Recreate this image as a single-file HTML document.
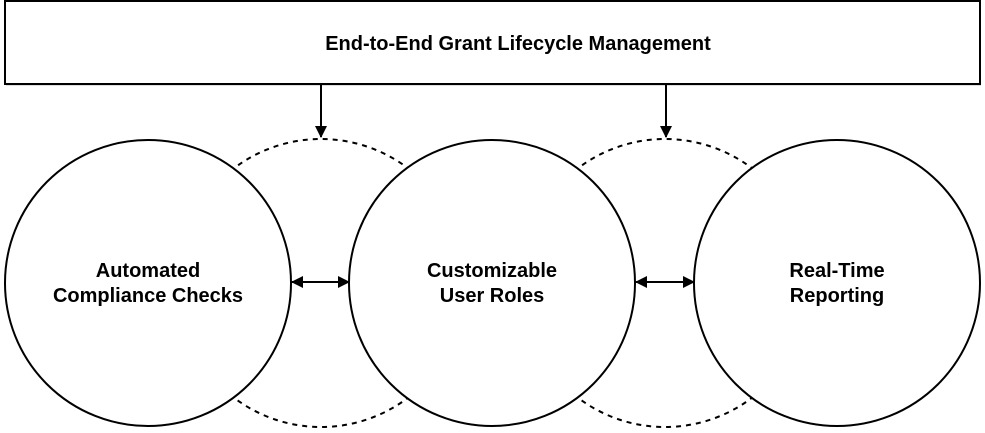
<!DOCTYPE html>
<html><head><style>
html,body{margin:0;padding:0;background:#fff;width:985px;height:433px;overflow:hidden}
text{font-family:"Liberation Sans",sans-serif;font-weight:bold;fill:#000}
</style></head><body>
<svg width="985" height="433" viewBox="0 0 985 433" xmlns="http://www.w3.org/2000/svg">
<defs>
<marker id="a" markerWidth="12" markerHeight="12" refX="11" refY="6" orient="auto" markerUnits="userSpaceOnUse"><path d="M0,0 L12,6 L0,12 z" fill="#000"/></marker>
<marker id="b" markerWidth="12" markerHeight="12" refX="1" refY="6" orient="auto" markerUnits="userSpaceOnUse"><path d="M12,0 L0,6 L12,12 z" fill="#000"/></marker>
</defs>
<rect x="6" y="3" width="975" height="83" fill="#ddd"/>
<rect x="5" y="1" width="975" height="83" fill="#fff" stroke="#000" stroke-width="2"/>
<text x="518" y="50" font-size="20" text-anchor="middle">End-to-End Grant Lifecycle Management</text>
<circle cx="321" cy="283" r="144" fill="none" stroke="#000" stroke-width="2" stroke-dasharray="5,5"/>
<circle cx="665" cy="283" r="144" fill="none" stroke="#000" stroke-width="2" stroke-dasharray="5,5"/>
<circle cx="148" cy="283" r="143" fill="#fff" stroke="#000" stroke-width="2"/>
<circle cx="492" cy="283" r="143" fill="#fff" stroke="#000" stroke-width="2"/>
<circle cx="837" cy="283" r="143" fill="#fff" stroke="#000" stroke-width="2"/>
<line x1="321" y1="85" x2="321" y2="137" stroke="#000" stroke-width="2" marker-end="url(#a)"/>
<line x1="666" y1="85" x2="666" y2="137" stroke="#000" stroke-width="2" marker-end="url(#a)"/>
<line x1="292" y1="282" x2="349" y2="282" stroke="#000" stroke-width="2" marker-start="url(#b)" marker-end="url(#a)"/>
<line x1="636" y1="282" x2="694" y2="282" stroke="#000" stroke-width="2" marker-start="url(#b)" marker-end="url(#a)"/>
<text x="148" y="277" font-size="20" text-anchor="middle">Automated</text>
<text x="148" y="302" font-size="20" text-anchor="middle">Compliance Checks</text>
<text x="492" y="277" font-size="20" text-anchor="middle">Customizable</text>
<text x="492" y="302" font-size="20" text-anchor="middle">User Roles</text>
<text x="837" y="277" font-size="20" text-anchor="middle">Real-Time</text>
<text x="837" y="302" font-size="20" text-anchor="middle">Reporting</text>
</svg>
</body></html>
